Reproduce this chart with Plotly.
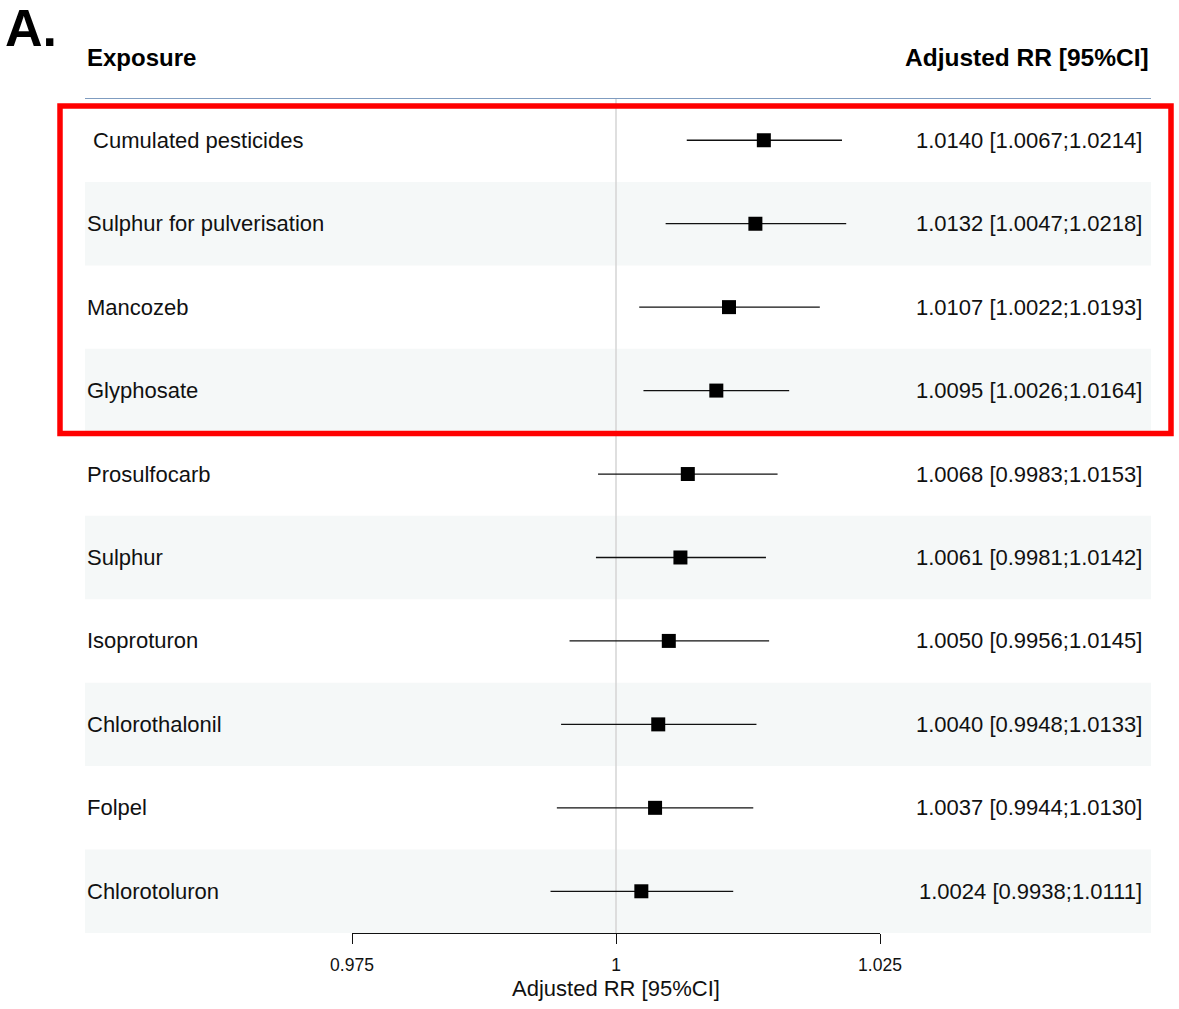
import plotly.graph_objects as go

exposures = ["\u00a0Cumulated pesticides", "Sulphur for pulverisation", "Mancozeb", "Glyphosate",
             "Prosulfocarb", "Sulphur", "Isoproturon", "Chlorothalonil", "Folpel", "Chlorotoluron"]
rr = [1.0140, 1.0132, 1.0107, 1.0095, 1.0068, 1.0061, 1.0050, 1.0040, 1.0037, 1.0024]
lower = [1.0067, 1.0047, 1.0022, 1.0026, 0.9983, 0.9981, 0.9956, 0.9948, 0.9944, 0.9938]
upper = [1.0214, 1.0218, 1.0193, 1.0164, 1.0153, 1.0142, 1.0145, 1.0133, 1.0130, 1.0111]
tick_vals = [0.975, 1.0, 1.025]
tick_text = ["0.975", "1", "1.025"]

W, H = 1179, 1009
FONT = "Liberation Sans, Arial, Helvetica, sans-serif"
rows = list(range(1, len(exposures) + 1))

def px(x):
    return x / W

def py(y):
    return 1 - y / H

fig = go.Figure()
fig.add_trace(go.Scatter(
    x=rr, y=rows, mode="markers",
    marker=dict(symbol="square", size=14, color="black"),
    error_x=dict(type="data", symmetric=False,
                 array=[u - r for u, r in zip(upper, rr)],
                 arrayminus=[r - l for r, l in zip(rr, lower)],
                 width=0, thickness=1.3, color="#111111"),
    showlegend=False, hoverinfo="skip",
))

shapes = []
for i in rows:
    if i % 2 == 0:
        shapes.append(dict(type="rect", xref="paper", yref="y", x0=px(85), x1=px(1151),
                           y0=i - 0.5, y1=i + 0.5, fillcolor="#f5f8f8", line=dict(width=0), layer="below"))
shapes.append(dict(type="line", xref="x", yref="y", x0=1, x1=1, y0=0.5, y1=len(rows) + 0.5,
                   line=dict(color="#d4d4d4", width=1.5), layer="below"))
shapes.append(dict(type="line", xref="paper", yref="paper", x0=px(85), x1=px(1151), y0=py(98.5), y1=py(98.5),
                   line=dict(color="#7f9cc0", width=1.2)))
shapes.append(dict(type="rect", xref="paper", yref="paper", x0=px(60), x1=px(1171), y0=py(106), y1=py(433.5),
                   line=dict(color="#ff0000", width=5.5), fillcolor="rgba(0,0,0,0)", layer="above"))

ann = []
for i, lab in zip(rows, exposures):
    ann.append(dict(text=lab, xref="paper", yref="y", x=px(85), y=i, xanchor="left", yanchor="middle",
                    showarrow=False, font=dict(size=22, color="#111111", family=FONT)))
for i, r, l, u in zip(rows, rr, lower, upper):
    ann.append(dict(text=f"{r:.4f} [{l:.4f};{u:.4f}]", xref="paper", yref="y", x=px(1144), y=i,
                    xanchor="right", yanchor="middle", showarrow=False,
                    font=dict(size=22, color="#111111", family=FONT)))
ann.append(dict(text="<b>Exposure</b>", xref="paper", yref="paper", x=px(85), y=py(58),
                xanchor="left", yanchor="middle", showarrow=False, font=dict(size=24, color="#000", family=FONT)))
ann.append(dict(text="<b>Adjusted RR [95%CI]</b>", xref="paper", yref="paper", x=px(1151), y=py(58),
                xanchor="right", yanchor="middle", showarrow=False, font=dict(size=24.5, color="#000", family=FONT)))
ann.append(dict(text="<b>A.</b>", xref="paper", yref="paper", x=px(3), y=py(28),
                xanchor="left", yanchor="middle", showarrow=False, font=dict(size=52, color="#000", family=FONT)))
ann.append(dict(text="Adjusted RR [95%CI]", xref="paper", yref="paper", x=px(616), y=py(988),
                xanchor="center", yanchor="middle", showarrow=False, font=dict(size=22, color="#111", family=FONT)))

fig.update_layout(
    width=W, height=H, autosize=False,
    margin=dict(l=0, r=0, t=0, b=0, pad=0, autoexpand=False),
    paper_bgcolor="white", plot_bgcolor="rgba(0,0,0,0)",
    shapes=shapes, annotations=ann,
    xaxis=dict(domain=[px(352), px(880)], range=[0.975, 1.025], tickvals=tick_vals, ticktext=tick_text,
               ticks="outside", ticklen=10, tickwidth=1, tickcolor="#111", showline=True, linecolor="#111",
               linewidth=1, showgrid=False, zeroline=False, automargin=False, ticklabelstandoff=6,
               tickfont=dict(size=17.5, color="#111", family=FONT)),
    yaxis=dict(domain=[py(933), py(98.5)], range=[len(rows) + 0.5, 0.5], visible=False, automargin=False),
)

fig.write_html("out.html", config={"displayModeBar": False},
               post_script="document.body.style.margin='0';document.body.style.overflow='hidden';")
